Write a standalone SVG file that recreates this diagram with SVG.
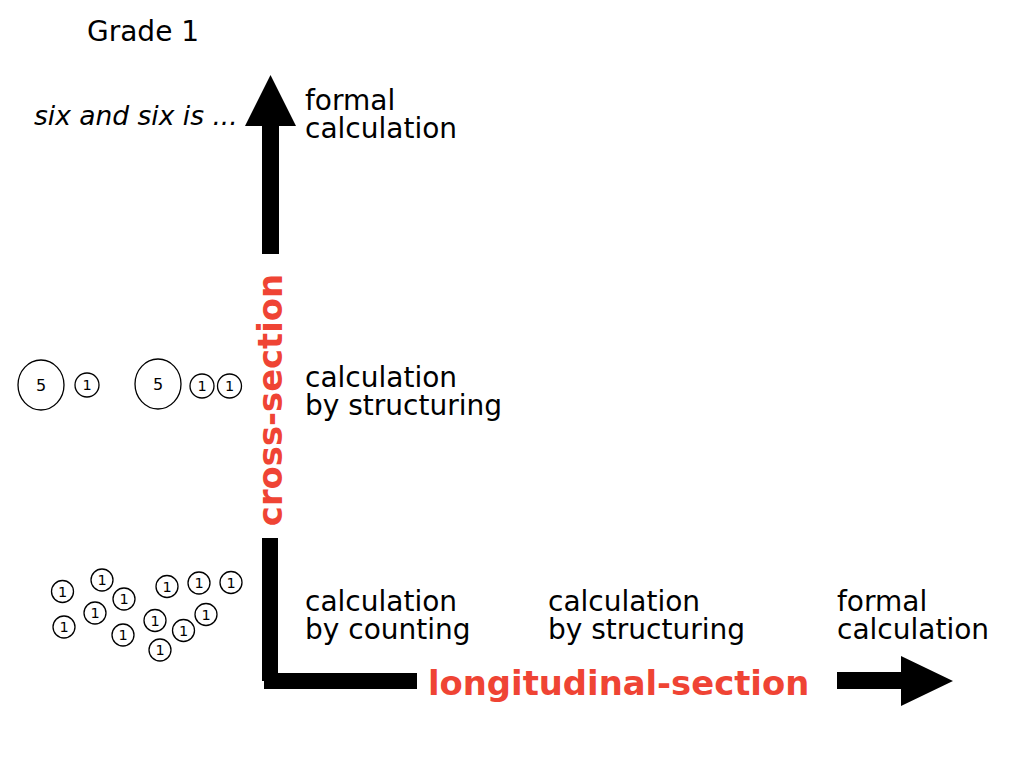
<svg xmlns="http://www.w3.org/2000/svg" width="1024" height="768" viewBox="0 0 1024 768">
<style>
.t{font-family:"DejaVu Sans","Liberation Sans",sans-serif;font-size:28px;fill:#000}
.it{font-family:"DejaVu Sans","Liberation Sans",sans-serif;font-size:26.5px;font-style:italic;fill:#000}
.red{font-family:"DejaVu Sans","Liberation Sans",sans-serif;font-size:33.8px;font-weight:bold;fill:#ef4434}
.c{fill:none;stroke:#000;stroke-width:1.3}
.n5{font-family:"DejaVu Sans","Liberation Sans",sans-serif;font-size:16px;text-anchor:middle;fill:#000}
.n1{font-family:"DejaVu Sans","Liberation Sans",sans-serif;font-size:14.5px;text-anchor:middle;fill:#000}
.ar{fill:#000}
</style>
<rect width="1024" height="768" fill="#fff"/>
<g id="title"><text class="t" x="87" y="41">Grade 1</text></g>
<g id="formal-example"><text class="it" x="34" y="125">six and six is ...</text></g>
<g id="connectors">
<polygon class="ar" points="262,254 262,126 245,126 270.5,75 296,126 279,126 279,254"/>
<rect class="ar" x="262" y="538" width="16" height="143"/>
<rect class="ar" x="264" y="673" width="153" height="16"/>
<polygon class="ar" points="837,672 901,672 901,656 953,681 901,706 901,689 837,689"/>
</g>
<g id="cross-section-label"><text class="red" text-anchor="middle" transform="translate(282,400) rotate(-90)">cross-section</text></g>
<g id="longitudinal-section-label"><text class="red" x="428" y="695">longitudinal-section</text></g>
<g id="level-formal"><text class="t" x="305" y="110">formal<tspan x="305" dy="28">calculation</tspan></text></g>
<g id="level-structuring"><text class="t" x="305" y="387">calculation<tspan x="305" dy="28">by structuring</tspan></text></g>
<g id="level-counting"><text class="t" x="305" y="611">calculation<tspan x="305" dy="28">by counting</tspan></text></g>
<g id="long-structuring"><text class="t" x="548" y="611">calculation<tspan x="548" dy="28">by structuring</tspan></text></g>
<g id="long-formal"><text class="t" x="837" y="611">formal<tspan x="837" dy="28">calculation</tspan></text></g>
<g id="structure-circles">
<ellipse class="c" cx="41" cy="385" rx="23" ry="25"/><text class="n5" x="41" y="391">5</text>
<circle class="c" cx="87" cy="385" r="12"/><text class="n1" x="87" y="390">1</text>
<ellipse class="c" cx="158" cy="384" rx="23" ry="25"/><text class="n5" x="158" y="390">5</text>
<circle class="c" cx="202" cy="386" r="12"/><text class="n1" x="202" y="391">1</text>
<circle class="c" cx="229.5" cy="386" r="12"/><text class="n1" x="229.5" y="391">1</text>
</g>
<g id="counting-circles">
<circle class="c" cx="62.5" cy="591.5" r="11"/><text class="n1" x="62.5" y="596.5">1</text>
<circle class="c" cx="102" cy="580" r="11"/><text class="n1" x="102" y="585">1</text>
<circle class="c" cx="124" cy="599" r="11"/><text class="n1" x="124" y="604">1</text>
<circle class="c" cx="95" cy="613" r="11"/><text class="n1" x="95" y="618">1</text>
<circle class="c" cx="64" cy="627" r="11"/><text class="n1" x="64" y="632">1</text>
<circle class="c" cx="167" cy="586.5" r="11"/><text class="n1" x="167" y="591.5">1</text>
<circle class="c" cx="199" cy="583" r="11"/><text class="n1" x="199" y="588">1</text>
<circle class="c" cx="231" cy="582.5" r="11"/><text class="n1" x="231" y="587.5">1</text>
<circle class="c" cx="155" cy="620.5" r="11"/><text class="n1" x="155" y="625.5">1</text>
<circle class="c" cx="206" cy="614.5" r="11"/><text class="n1" x="206" y="619.5">1</text>
<circle class="c" cx="123" cy="635" r="11"/><text class="n1" x="123" y="640">1</text>
<circle class="c" cx="183.5" cy="630.5" r="11"/><text class="n1" x="183.5" y="635.5">1</text>
<circle class="c" cx="160" cy="650" r="11"/><text class="n1" x="160" y="655">1</text>
</g>
</svg>
